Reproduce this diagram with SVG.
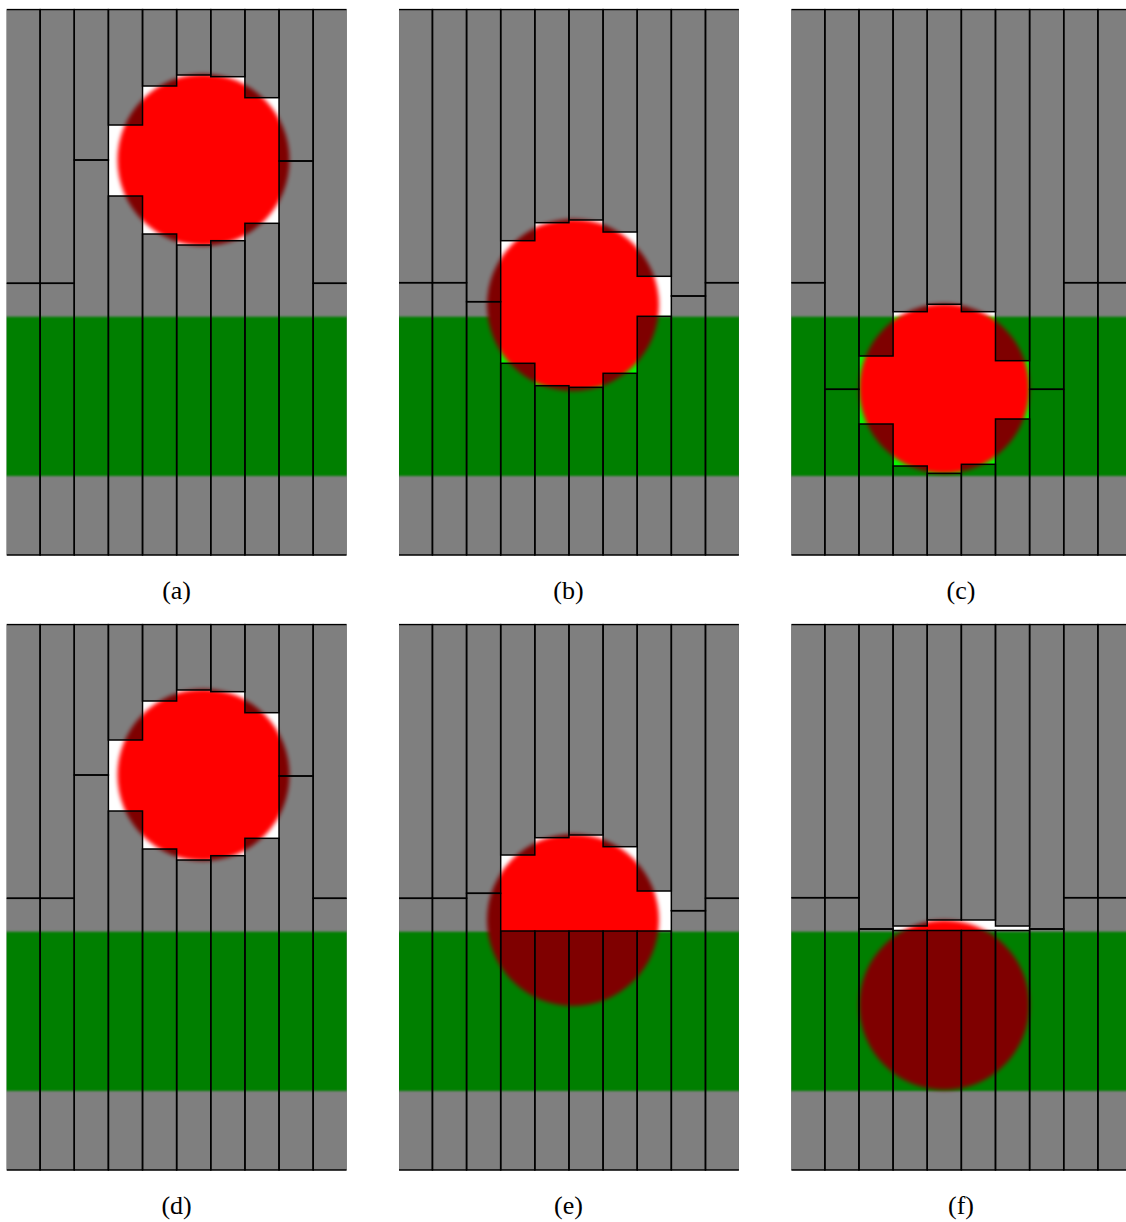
<svg xmlns="http://www.w3.org/2000/svg" width="1126" height="1222" viewBox="0 0 1126 1222">
<style>
.bg{fill:#fff}
.band{fill:#00ff00;filter:url(#bandBlur)}
.ball{fill:#ff0000;filter:url(#ballBlur)}
.col{fill:#000;fill-opacity:.5;stroke:#000;stroke-width:1.5}
.lbl{font-family:"Liberation Serif","Times New Roman",serif;font-size:26px;fill:#000;text-anchor:middle}
</style>
<defs>
<filter id="bandBlur" x="-10%" y="-20%" width="120%" height="140%"><feGaussianBlur stdDeviation="1.3"/></filter>
<filter id="ballBlur" x="-20%" y="-20%" width="140%" height="140%"><feGaussianBlur stdDeviation="2"/></filter>
<clipPath id="pclip" clipPathUnits="userSpaceOnUse"><rect x="0.7" y="-1" width="339.9" height="547.5"/></clipPath>
<rect id="base" class="bg" x="0" y="0" width="341.3" height="545.5"/>
<rect id="bandR" class="band" x="-20" y="307.2" width="381" height="159.3"/>
</defs>
<rect width="1126" height="1222" fill="#fff"/>

<!-- (a) -->
<g id="panel-a" transform="translate(6,9.5)">
<g clip-path="url(#pclip)">
<use href="#base"/><use href="#bandR"/>
<circle class="ball" cx="197.5" cy="150.5" r="86"/>
<rect class="col" x="0" y="0" width="34.13" height="273.8"/><rect class="col" x="0" y="273.8" width="34.13" height="271.7"/>
<rect class="col" x="34.13" y="0" width="34.13" height="273.8"/><rect class="col" x="34.13" y="273.8" width="34.13" height="271.7"/>
<rect class="col" x="68.26" y="0" width="34.13" height="150.5"/><rect class="col" x="68.26" y="150.5" width="34.13" height="395"/>
<rect class="col" x="102.39" y="0" width="34.13" height="115.5"/><rect class="col" x="102.39" y="186.5" width="34.13" height="359"/>
<rect class="col" x="136.52" y="0" width="34.13" height="76.5"/><rect class="col" x="136.52" y="224.5" width="34.13" height="321"/>
<rect class="col" x="170.65" y="0" width="34.13" height="65.5"/><rect class="col" x="170.65" y="235.5" width="34.13" height="310"/>
<rect class="col" x="204.78" y="0" width="34.13" height="67.2"/><rect class="col" x="204.78" y="231.2" width="34.13" height="314.3"/>
<rect class="col" x="238.91" y="0" width="34.13" height="88.2"/><rect class="col" x="238.91" y="213.8" width="34.13" height="331.7"/>
<rect class="col" x="273.04" y="0" width="34.13" height="151.5"/><rect class="col" x="273.04" y="151.5" width="34.13" height="394"/>
<rect class="col" x="307.17" y="0" width="34.13" height="273.8"/><rect class="col" x="307.17" y="273.8" width="34.13" height="271.7"/>
</g>
</g>
<text id="label-a" class="lbl" x="176.6" y="598.5">(a)</text>

<!-- (b) -->
<g id="panel-b" transform="translate(398.3,9.5)">
<g clip-path="url(#pclip)">
<use href="#base"/><use href="#bandR"/>
<circle class="ball" cx="174.7" cy="295.5" r="86"/>
<rect class="col" x="0" y="0" width="34.13" height="273.2"/><rect class="col" x="0" y="273.2" width="34.13" height="272.3"/>
<rect class="col" x="34.13" y="0" width="34.13" height="273.2"/><rect class="col" x="34.13" y="273.2" width="34.13" height="272.3"/>
<rect class="col" x="68.26" y="0" width="34.13" height="292.2"/><rect class="col" x="68.26" y="292.2" width="34.13" height="253.3"/>
<rect class="col" x="102.39" y="0" width="34.13" height="231.2"/><rect class="col" x="102.39" y="353.8" width="34.13" height="191.7"/>
<rect class="col" x="136.52" y="0" width="34.13" height="213.2"/><rect class="col" x="136.52" y="376.2" width="34.13" height="169.3"/>
<rect class="col" x="170.65" y="0" width="34.13" height="210.5"/><rect class="col" x="170.65" y="377.8" width="34.13" height="167.7"/>
<rect class="col" x="204.78" y="0" width="34.13" height="222.5"/><rect class="col" x="204.78" y="363.8" width="34.13" height="181.7"/>
<rect class="col" x="238.91" y="0" width="34.13" height="266.8"/><rect class="col" x="238.91" y="306.8" width="34.13" height="238.7"/>
<rect class="col" x="273.04" y="0" width="34.13" height="286.5"/><rect class="col" x="273.04" y="286.5" width="34.13" height="259"/>
<rect class="col" x="307.17" y="0" width="34.13" height="273.2"/><rect class="col" x="307.17" y="273.2" width="34.13" height="272.3"/>
</g>
</g>
<text id="label-b" class="lbl" x="568.5" y="598.5">(b)</text>

<!-- (c) -->
<g id="panel-c" transform="translate(790.7,9.5)">
<g clip-path="url(#pclip)">
<use href="#base"/><use href="#bandR"/>
<circle class="ball" cx="153.6" cy="379" r="85"/>
<rect class="col" x="0" y="0" width="34.13" height="273.2"/><rect class="col" x="0" y="273.2" width="34.13" height="272.3"/>
<rect class="col" x="34.13" y="0" width="34.13" height="379.8"/><rect class="col" x="34.13" y="379.8" width="34.13" height="165.7"/>
<rect class="col" x="68.26" y="0" width="34.13" height="346.5"/><rect class="col" x="68.26" y="414.5" width="34.13" height="131"/>
<rect class="col" x="102.39" y="0" width="34.13" height="302.2"/><rect class="col" x="102.39" y="456.5" width="34.13" height="89"/>
<rect class="col" x="136.52" y="0" width="34.13" height="294.8"/><rect class="col" x="136.52" y="463.8" width="34.13" height="81.7"/>
<rect class="col" x="170.65" y="0" width="34.13" height="302.2"/><rect class="col" x="170.65" y="454.8" width="34.13" height="90.7"/>
<rect class="col" x="204.78" y="0" width="34.13" height="351.2"/><rect class="col" x="204.78" y="409.5" width="34.13" height="136"/>
<rect class="col" x="238.91" y="0" width="34.13" height="379.8"/><rect class="col" x="238.91" y="379.8" width="34.13" height="165.7"/>
<rect class="col" x="273.04" y="0" width="34.13" height="273.2"/><rect class="col" x="273.04" y="273.2" width="34.13" height="272.3"/>
<rect class="col" x="307.17" y="0" width="34.13" height="273.2"/><rect class="col" x="307.17" y="273.2" width="34.13" height="272.3"/>
</g>
</g>
<text id="label-c" class="lbl" x="961" y="598.5">(c)</text>

<!-- (d) -->
<g id="panel-d" transform="translate(6,624.5)">
<g clip-path="url(#pclip)">
<use href="#base"/><use href="#bandR"/>
<circle class="ball" cx="197.5" cy="150.5" r="86"/>
<rect class="col" x="0" y="0" width="34.13" height="273.8"/><rect class="col" x="0" y="273.8" width="34.13" height="271.7"/>
<rect class="col" x="34.13" y="0" width="34.13" height="273.8"/><rect class="col" x="34.13" y="273.8" width="34.13" height="271.7"/>
<rect class="col" x="68.26" y="0" width="34.13" height="150.5"/><rect class="col" x="68.26" y="150.5" width="34.13" height="395"/>
<rect class="col" x="102.39" y="0" width="34.13" height="115.5"/><rect class="col" x="102.39" y="186.5" width="34.13" height="359"/>
<rect class="col" x="136.52" y="0" width="34.13" height="76.5"/><rect class="col" x="136.52" y="224.5" width="34.13" height="321"/>
<rect class="col" x="170.65" y="0" width="34.13" height="65.5"/><rect class="col" x="170.65" y="235.5" width="34.13" height="310"/>
<rect class="col" x="204.78" y="0" width="34.13" height="67.2"/><rect class="col" x="204.78" y="231.2" width="34.13" height="314.3"/>
<rect class="col" x="238.91" y="0" width="34.13" height="88.2"/><rect class="col" x="238.91" y="213.8" width="34.13" height="331.7"/>
<rect class="col" x="273.04" y="0" width="34.13" height="151.5"/><rect class="col" x="273.04" y="151.5" width="34.13" height="394"/>
<rect class="col" x="307.17" y="0" width="34.13" height="273.8"/><rect class="col" x="307.17" y="273.8" width="34.13" height="271.7"/>
</g>
</g>
<text id="label-d" class="lbl" x="176.6" y="1213.5">(d)</text>

<!-- (e) -->
<g id="panel-e" transform="translate(398.3,624.5)">
<g clip-path="url(#pclip)">
<use href="#base"/><use href="#bandR"/>
<circle class="ball" cx="174.7" cy="295.5" r="86"/>
<rect class="col" x="0" y="0" width="34.13" height="273.8"/><rect class="col" x="0" y="273.8" width="34.13" height="271.7"/>
<rect class="col" x="34.13" y="0" width="34.13" height="273.8"/><rect class="col" x="34.13" y="273.8" width="34.13" height="271.7"/>
<rect class="col" x="68.26" y="0" width="34.13" height="268.8"/><rect class="col" x="68.26" y="268.8" width="34.13" height="276.7"/>
<rect class="col" x="102.39" y="0" width="34.13" height="230.5"/><rect class="col" x="102.39" y="306.5" width="34.13" height="239"/>
<rect class="col" x="136.52" y="0" width="34.13" height="213.2"/><rect class="col" x="136.52" y="306.5" width="34.13" height="239"/>
<rect class="col" x="170.65" y="0" width="34.13" height="210.5"/><rect class="col" x="170.65" y="306.5" width="34.13" height="239"/>
<rect class="col" x="204.78" y="0" width="34.13" height="222.2"/><rect class="col" x="204.78" y="306.5" width="34.13" height="239"/>
<rect class="col" x="238.91" y="0" width="34.13" height="266.5"/><rect class="col" x="238.91" y="306.5" width="34.13" height="239"/>
<rect class="col" x="273.04" y="0" width="34.13" height="286.2"/><rect class="col" x="273.04" y="286.2" width="34.13" height="259.3"/>
<rect class="col" x="307.17" y="0" width="34.13" height="273.8"/><rect class="col" x="307.17" y="273.8" width="34.13" height="271.7"/>
</g>
</g>
<text id="label-e" class="lbl" x="568.5" y="1213.5">(e)</text>

<!-- (f) -->
<g id="panel-f" transform="translate(790.7,624.5)">
<g clip-path="url(#pclip)">
<use href="#base"/><use href="#bandR"/>
<circle class="ball" cx="153.6" cy="380.5" r="85"/>
<rect class="col" x="0" y="0" width="34.13" height="273.2"/><rect class="col" x="0" y="273.2" width="34.13" height="272.3"/>
<rect class="col" x="34.13" y="0" width="34.13" height="273.2"/><rect class="col" x="34.13" y="273.2" width="34.13" height="272.3"/>
<rect class="col" x="68.26" y="0" width="34.13" height="304.5"/><rect class="col" x="68.26" y="304.5" width="34.13" height="241"/>
<rect class="col" x="102.39" y="0" width="34.13" height="301.5"/><rect class="col" x="102.39" y="306" width="34.13" height="239.5"/>
<rect class="col" x="136.52" y="0" width="34.13" height="295.5"/><rect class="col" x="136.52" y="306" width="34.13" height="239.5"/>
<rect class="col" x="170.65" y="0" width="34.13" height="295.5"/><rect class="col" x="170.65" y="306" width="34.13" height="239.5"/>
<rect class="col" x="204.78" y="0" width="34.13" height="301.5"/><rect class="col" x="204.78" y="306" width="34.13" height="239.5"/>
<rect class="col" x="238.91" y="0" width="34.13" height="304.5"/><rect class="col" x="238.91" y="304.5" width="34.13" height="241"/>
<rect class="col" x="273.04" y="0" width="34.13" height="273.2"/><rect class="col" x="273.04" y="273.2" width="34.13" height="272.3"/>
<rect class="col" x="307.17" y="0" width="34.13" height="273.2"/><rect class="col" x="307.17" y="273.2" width="34.13" height="272.3"/>
</g>
</g>
<text id="label-f" class="lbl" x="961" y="1213.5">(f)</text>
</svg>
